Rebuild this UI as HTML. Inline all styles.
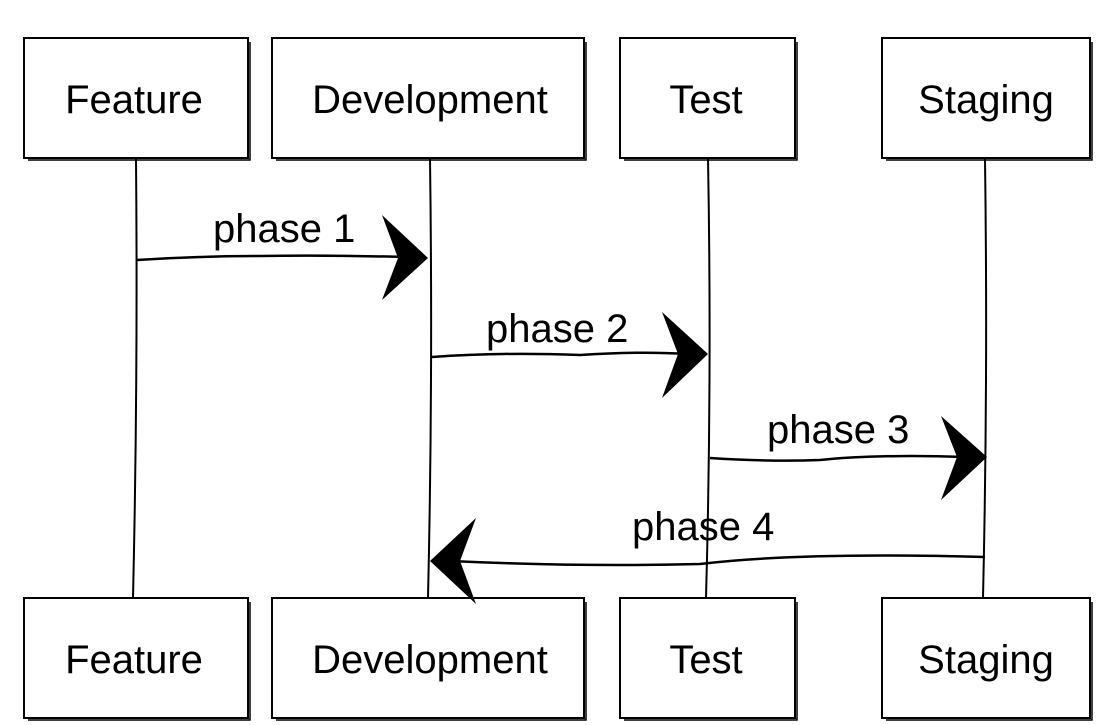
<!DOCTYPE html>
<html><head><meta charset="utf-8"><style>
html,body{margin:0;padding:0;background:#fff;}
svg{display:block}
text{font-family:"Liberation Sans",sans-serif;font-size:40px;fill:#000;}
</style></head><body>
<svg width="1105" height="725" viewBox="0 0 1105 725" xmlns="http://www.w3.org/2000/svg">
<g stroke="#000" stroke-width="2" fill="none">
<path d="M136 158 Q138 380 133 598"/>
<path d="M430 158 Q433 380 428 598"/>
<path d="M708 158 Q712 380 706 598"/>
<path d="M985 158 Q988 380 983 598"/>
</g>
<g stroke="#000" stroke-width="2" fill="#fff">
<rect x="24" y="38" width="224" height="120"/>
<rect x="272" y="38" width="312" height="120"/>
<rect x="620" y="38" width="175" height="120"/>
<rect x="882" y="38" width="208" height="120"/>
<rect x="24" y="598" width="224" height="120"/>
<rect x="272" y="598" width="312" height="120"/>
<rect x="620" y="598" width="175" height="120"/>
<rect x="882" y="598" width="208" height="120"/>
</g>
<g stroke="#000" stroke-width="1.5" fill="none">
<path d="M250 42 L250 160 L28 160"/>
<path d="M586 42 L586 160 L276 160"/>
<path d="M797 42 L797 160 L624 160"/>
<path d="M1092 42 L1092 160 L886 160"/>
<path d="M250 602 L250 720 L28 720"/>
<path d="M586 602 L586 720 L276 720"/>
<path d="M797 602 L797 720 L624 720"/>
<path d="M1092 602 L1092 720 L886 720"/>
</g>
<g text-anchor="middle">
<text x="134" y="113">Feature</text>
<text x="430" y="113">Development</text>
<text x="706" y="113">Test</text>
<text x="986" y="113">Staging</text>
<text x="134" y="673">Feature</text>
<text x="430" y="673">Development</text>
<text x="706" y="673">Test</text>
<text x="986" y="673">Staging</text>
</g>
<g stroke="#000" stroke-width="2.5" fill="none">
<path d="M137 260 Q200 256 260 256 Q330 255 405 257"/>
<path d="M432 357 Q500 352 580 355 Q640 351 688 354"/>
<path d="M710 458 Q770 462 820 460 Q880 454 965 457"/>
<path d="M985 557 Q800 552 700 564 Q580 567 450 561"/>
</g>
<g fill="#000">
<path d="M428 258 L382 215 L398 258 L382 300 Z"/>
<path d="M708 354 L662 312 L678 354 L662 398 Z"/>
<path d="M987 457 L941 416 L957 457 L941 500 Z"/>
<path d="M430 561 L476 518 L460 561 L476 604 Z"/>
</g>
<g font-size="36">
<text x="213" y="242">phase 1</text>
<text x="486" y="342">phase 2</text>
<text x="767" y="443">phase 3</text>
<text x="632" y="540">phase 4</text>
</g>
</svg>
</body></html>
